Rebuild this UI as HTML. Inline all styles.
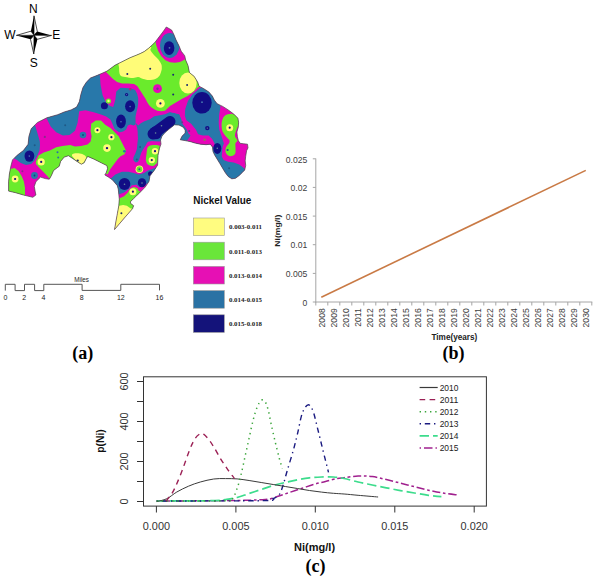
<!DOCTYPE html>
<html><head><meta charset="utf-8"><style>
html,body{margin:0;padding:0;background:#fff;width:597px;height:577px;overflow:hidden}
svg{display:block}
text{font-family:"Liberation Sans",sans-serif}
.serif{font-family:"Liberation Serif",serif}
</style></head><body>
<svg width="597" height="577" viewBox="0 0 597 577">
<g id="map">
<defs><clipPath id="mc"><path d="M166.3 27 171.6 30 173.6 34 176.1 40.1 179.1 46.1 181.2 51.2 184.7 55.7 185.7 60.2 188 65.5 189.4 72.5 194.3 76.6 197.7 82.2 199.1 86.3 203.3 88.4 208.8 91.9 212.3 96 214.4 100.2 217.1 103.7 222.7 106.4 228.2 109.9 233.8 114.1 237.9 118.2 238.6 122.4 238.3 127 236.9 132 237.4 136.8 238.3 140.5 240.1 143.3 243.8 143.8 247.5 144.2 248 147.9 246.6 150.7 245.7 156.2 245.2 160.8 245.7 165.4 244.7 170 242 172.8 239.2 175.5 235.5 178.3 231.8 178.8 228.2 176.5 225.4 172.8 222.6 168.2 219.9 163.6 217.1 159 214.8 155.3 213 151.6 212.5 147 210.2 144.2 206.1 144.7 200.5 144.2 195.2 143.1 190.2 141.6 185.2 140.6 180.3 139.8 182.1 136.1 185.2 133.1 185.2 130.1 183.1 127.1 179.1 125.1 174.5 124.8 169.1 129.1 165 132.6 162 136.1 160.5 140.1 161 144.1 159.5 148.2 158 155.2 157.6 165.2 153.8 171 150 175.7 149 181.4 145.2 187.1 139.5 192.9 133.6 198.6 130.3 201.9 130.7 203.4 133.6 205.7 132.6 208.6 123.5 219 114.5 229.6 116 221 117.4 213.4 118.8 205.7 119.3 199.1 118.3 189.5 117.4 185.7 112.6 180 108.3 177 104.8 174.9 106.2 172.7 107.6 168.5 106.9 165.6 101.2 162.8 94.1 159.2 87.7 156.4 86.3 158.5 84.1 162.8 81.3 164.2 77 161.4 72.7 158.5 68.5 155.7 64.2 157.1 60.6 161.4 59.2 166.3 57.1 167.8 53.5 170.6 51.4 175.6 49.3 179.2 45.2 178.6 40.5 177.1 35.9 181.7 34.3 186.4 35.1 191.1 35.9 195 32.8 197.3 23.4 195 15.6 192.7 8.6 191.1 8.6 181.7 9.4 174 10.9 166.1 12.5 159.9 17.2 155.2 23.4 150.5 28.1 144.3 28.9 136.5 31.2 128.7 37.4 122.5 46.8 117.8 57.7 114.7 64.2 112 71.1 109.9 76.6 107.1 79.4 101.6 80.8 94.7 82.9 87.7 86.3 82.2 90.5 78 97.4 75.3 107.1 71.1 115 65.2 120.1 62.7 125.1 60.2 130.1 57.7 135.1 55.7 140.2 53.6 144.2 51.6 148.2 48.6 152.2 45.1 155.2 42.1 158.2 38.1 161.3 34 164.3 30Z"/></clipPath></defs>
<g clip-path="url(#mc)"><rect x="0" y="20" width="260" height="220" fill="#E605B8"/>
<path d="M60 60 97 68 99.6 72.6 100.6 85.1 102.7 95.6 105.8 101.9 110 106.1 113.2 107.1 115.3 99.8 116.3 91.4 120.5 87.8 125.1 88.1 131.1 88.6 135.2 90.1 137.2 94.1 138.2 98.2 138.2 103.2 137.7 107.2 136.5 112 135.5 117 135.6 122.8 135.6 124.4 133.5 125.4 130.4 124.4 127.8 125.4 126.2 129.6 123.1 131.6 120 132.2 118.7 132 114.5 128.9 112.4 123.7 110.4 119.6 106.2 116.4 101 114.4 93.7 112.3 85.4 110.2 79.2 111.2 77.6 122.8 75 130.8 69.6 134.9 62.9 135.5 56.2 132.2 50.8 126.8 46.8 118.8 45 108Z" fill="#2878AA"/>
<path d="M28 118 35 125 37.4 133 39.8 141.2 40 145.2 39.5 150.4 37.4 155.6 34.3 160.8 31.2 163.9 26 165 20.8 162.9 16.6 159.8 14.6 158.7 5 150Z" fill="#2878AA"/>
<path d="M135.6 122.8 138.2 125.4 140.8 123.3 144.4 121.2 150 119.2 154.2 116.2 161.1 114.9 165 114.2 170 112 174.7 113.1 179.4 114.3 181.7 119 182.9 123.7 184.1 126 178 127 170 127 162.1 140.6 159.5 141.5 154.4 141.2 152 141.1 148 141.7 146.8 143.3 145.7 145.5 143 149.4 141.3 152.7 140.2 156.1 139.1 160 137.4 162.2 135.2 162.2 133.3 160 133.5 157.2 135.2 153.8 136.9 148.9 137.4 143.3 138 138.3 137.7 135 137.7 132.2 137.2 128Z" fill="#2878AA"/>
<path d="M108 181 115.4 174.4 121.9 171.8 128.4 171.8 133.6 173.1 138.8 174.4 144 173.1 147.9 170.5 151.8 169.2 156 167.5 158 170 150 182 143.1 185.7 139.3 187.6 136.5 184.8 131.7 185.2 128.8 189 124.1 192.4 119.3 194.3 112 192Z" fill="#2878AA"/>
<path d="M199.3 88.5 205 86 213.4 96.7 220.4 106.1 220.4 107.3 219.2 114.3 218.7 122.5 219.2 129.5 221.6 136.6 223.9 143.6 222.6 147 222.2 151.6 221.7 156.2 223.6 159.9 228.2 161.7 233.7 162.6 239.2 164.5 242.9 167.2 244.7 169.1 248 175 235 185 215 165 205 150 190 145 175 142 168 127 184.7 115.5 185.2 108.4 187.6 101.4 192.3 94.4Z" fill="#2878AA"/>
<path d="M170 108 176 104 184 100 187.6 101.4 185.2 108.4 184.7 115.5 186.4 120.2 191.1 123.7 195.8 129.5 198.1 134.2 202.8 135.4 208.7 135.4 212.2 138.9 214.5 143.6 216 147 205 147 195 146 186 142 189 138 190.5 135.5 188.5 133.5 186.8 129.5 184.6 126.5 182.5 123.7 181.2 119 179.4 114.3 174.7 113.1 170 112Z" fill="#E605B8"/>
<path d="M100 62 155 40 155.7 42.1 156.2 45.1 158.2 51.1 161.3 56.2 165.3 60.2 170 62.2 175 62.8 180 62 184 60 188 57 200 70 205 86 198.1 87.3 193.4 92 187.6 96.1 181.7 99.1 175.9 102.6 170 106.1 165 110.7 161.3 111.2 157.3 110.7 154.2 109.2 151.2 107.2 149.2 105.2 147.2 102.2 145.2 98.2 143.2 95.2 141.2 92.1 139.2 89.1 137.2 86.1 134.1 84.1 128.1 83.6 122.1 83.6 117.1 82.1 113 79.1 109 75 105 71Z" fill="#6AEB2C"/>
<path d="M35.9 161.5 38.5 155.6 43.7 152.5 49.9 150.4 56.2 147.3 62.4 145.9 70.2 145.1 75 146.6 81.2 146.1 87.5 144.5 90.6 141.4 91.6 136.2 90.6 131 91.1 125.8 91.1 123.7 95.8 120.6 101 120.6 105.2 124.8 110.4 127.9 114.5 132 118.7 136.2 120.8 140.4 123.9 146.6 126 150.8 124.5 154.2 120.6 156.2 118 158.8 114.1 164 110.2 169.2 107.6 174.4 100 170 60 170 49.9 179.5 47.8 176.4 43.7 172.2 39.5 168.1 35.9 163.9Z" fill="#6AEB2C"/>
<path d="M5 168 10.4 169.1 14.6 168.1 18.7 171.2 21.8 176.4 23.9 181.6 25 187.8 25 196 5 196Z" fill="#6AEB2C"/>
<path d="M225.1 115.5C226.6 114.4 229.2 113.7 231 113.7C232.8 113.7 234.2 114.4 235.6 115.5C237 116.6 238.8 118.5 239.2 120.2C239.6 122 238.6 124 238 126C237.4 128 236.1 130.1 235.6 131.9C235.1 133.7 234.8 135.2 235.1 136.6C235.4 138 237.3 139.4 237.4 140.5C237.5 141.6 235.8 142.2 235.5 143.3C235.2 144.4 235.5 145.5 235.5 147C235.5 148.5 235.8 151.1 235.5 152.5C235.2 153.9 234.6 154.7 233.7 155.3C232.8 155.9 231.2 156.4 230 156.2C228.8 156 227.6 155.2 226.8 154.3C226 153.4 225.5 151.9 225.4 150.7C225.3 149.5 225.7 148.2 226.3 147C226.9 145.8 228.6 144.4 229.1 143.3C229.6 142.2 229.8 141.4 229.5 140.5C229.2 139.6 228.3 139.2 227.2 137.8C226.1 136.4 223.7 133.9 222.8 131.9C221.9 129.9 221.7 128 221.6 126C221.5 124 221.6 122 222.2 120.2C222.8 118.5 223.6 116.6 225.1 115.5Z" fill="#6AEB2C"/>
<path d="M147.9 147.1C149 145.7 151.1 145.3 153 145.1C154.9 144.9 158.3 144.8 159.5 145.8C160.7 146.8 160.4 149.1 160.2 151C160 152.9 158.7 155.6 158.2 157.5C157.7 159.4 157.9 161.3 157 162.7C156.1 164.1 154.5 165.6 153 165.9C151.5 166.2 149.1 165.6 147.9 164.6C146.7 163.6 146.1 161.9 145.9 160.1C145.7 158.3 146.3 155.8 146.6 153.6C146.9 151.4 146.8 148.5 147.9 147.1Z" fill="#6AEB2C"/>
<path d="M116 198.8 119.3 198.6 124.1 196.2 127.9 192.4 129.8 189 133.6 187.1 137.4 188.1 138.4 190.5 141 192 137 212 116 212Z" fill="#6AEB2C"/>
<path d="M120.1 75C119.1 73.5 119.1 70.3 119.1 68C119.1 65.7 117.3 63.7 120 61C122.7 58.3 130 54.3 135 52C140 49.7 147.6 47.3 150.2 47C152.8 46.7 149.8 48.9 150.5 50.3C151.2 51.7 152.9 53.7 154.2 55.2C155.5 56.7 157 57.7 158.2 59.2C159.4 60.7 160.7 62.7 161.3 64.2C161.9 65.7 161.8 67.1 161.8 68.2C161.8 69.3 161.7 69.7 161.3 71C160.9 72.3 160.3 74.8 159.3 76.1C158.3 77.4 157 78.4 155.3 79.1C153.6 79.8 151.2 80.1 149.2 80.1C147.2 80.1 145 79.6 143.2 79.1C141.4 78.6 139.9 77.3 138.2 77.1C136.5 76.9 135.3 78.1 133.1 78.1C130.9 78.1 127.3 77.6 125.1 77.1C122.9 76.6 121.1 76.5 120.1 75Z" fill="#FFFC78"/>
<ellipse cx="188" cy="83" rx="8.7" ry="10.5" fill="#FFFC78"/>
<path d="M72 155.7C71.5 154.4 72.9 153.9 74.2 153.5C75.5 153.1 78.2 153.2 79.9 153.5C81.6 153.8 83 154.3 84.1 155C85.2 155.7 86.4 156.5 86.3 157.8C86.2 159.1 84.2 161.7 83.4 162.8C82.6 163.9 82.4 164.4 81.3 164.2C80.2 164 78.5 162.8 77 161.4C75.5 160 72.5 157 72 155.7Z" fill="#FFFC78"/>
<path d="M116 205.9 119.3 205.7 123.1 205 126.9 205.7 130.7 208.6 134 209 125 220 113 232 115 215Z" fill="#FFFC78"/>
<ellipse cx="169.8" cy="45.5" rx="9.8" ry="12.5" fill="#2878AA"/>
<ellipse cx="169.1" cy="48.1" rx="5.3" ry="6.8" fill="#110D85"/>
<ellipse cx="202" cy="102.8" rx="9.7" ry="10.8" fill="#110D85"/>
<ellipse cx="130.1" cy="106.2" rx="5" ry="6" fill="#110D85"/>
<ellipse cx="121" cy="121.4" rx="4.9" ry="7" fill="#110D85"/>
<circle cx="104.4" cy="105.8" r="3.5" fill="#110D85"/>
<ellipse cx="29.4" cy="156.1" rx="4.9" ry="5.7" fill="#110D85"/>
<ellipse cx="217.3" cy="148.4" rx="4" ry="5.5" fill="#110D85"/>
<circle cx="155.6" cy="132.8" r="6.5" fill="#110D85"/>
<ellipse cx="124.5" cy="184" rx="5.8" ry="6.1" fill="#110D85"/>
<ellipse cx="142" cy="182.8" rx="4.2" ry="4.5" fill="#110D85"/>
<circle cx="150.5" cy="173.7" r="2.5" fill="#110D85"/>
<path d="M153 134L170 121.5" stroke="#110D85" stroke-width="11" stroke-linecap="round" fill="none"/>
<circle cx="169.5" cy="47.8" r="0.9" fill="#4a78b0"/>
<circle cx="202" cy="102.2" r="0.9" fill="#4a78b0"/>
<circle cx="127.3" cy="73.9" r="1" fill="#1a2a70"/>
<circle cx="150.2" cy="68.7" r="1" fill="#1a2a70"/>
<circle cx="173.2" cy="74.8" r="1" fill="#1a2a70"/>
<circle cx="187.1" cy="84.9" r="1" fill="#1a2a70"/>
<circle cx="173.2" cy="94.4" r="1" fill="#1a2a70"/>
<circle cx="157.5" cy="88.7" r="4.4" fill="#E605B8"/>
<circle cx="157.5" cy="88.7" r="1.2" fill="#6a3a8a"/>
<circle cx="160.4" cy="103.4" r="4.4" fill="#FFFC78"/>
<circle cx="160.4" cy="103.4" r="1.1" fill="#110D85"/>
<circle cx="108.5" cy="101" r="2.6" fill="#6AEB2C"/>
<circle cx="108.5" cy="101" r="1.2" fill="#FFFC78"/>
<circle cx="126.6" cy="94.6" r="1.6" fill="#110D85"/>
<circle cx="126.6" cy="94.6" r="0.6" fill="#4a78b0"/>
<circle cx="130.2" cy="89.3" r="1.2" fill="#b02080"/>
<circle cx="65.2" cy="125.2" r="1" fill="#1f5a86"/>
<circle cx="83" cy="135" r="3.3" fill="#2878AA"/>
<circle cx="83" cy="135" r="0.9" fill="#1a3a7a"/>
<circle cx="44.8" cy="136.9" r="1.1" fill="#8a2a8a"/>
<circle cx="34.7" cy="145.3" r="1" fill="#1f5a86"/>
<circle cx="57.5" cy="152.3" r="1" fill="#2a70a8"/>
<circle cx="58.2" cy="157.6" r="1" fill="#2a70a8"/>
<circle cx="97.4" cy="130.2" r="3" fill="#FFFC78"/>
<circle cx="97.4" cy="130.2" r="1.1" fill="#110D85"/>
<circle cx="111.4" cy="137.2" r="3.1" fill="#FFFC78"/>
<circle cx="111.4" cy="137.2" r="1.1" fill="#110D85"/>
<circle cx="107" cy="148.1" r="3.8" fill="#FFFC78"/>
<circle cx="107" cy="148.1" r="1.2" fill="#110D85"/>
<circle cx="41.2" cy="161.9" r="3.6" fill="#FFFC78"/>
<circle cx="41.2" cy="161.9" r="1.1" fill="#110D85"/>
<circle cx="15.1" cy="179" r="3.4" fill="#FFFC78"/>
<circle cx="15.1" cy="179" r="1.1" fill="#110D85"/>
<circle cx="34.5" cy="175.5" r="3.4" fill="#2878AA"/>
<circle cx="34.5" cy="175.5" r="0.9" fill="#1a3a7a"/>
<circle cx="22.4" cy="171.2" r="1" fill="#8a2a8a"/>
<circle cx="29.3" cy="156.1" r="0.8" fill="#4a78b0"/>
<circle cx="121" cy="121.8" r="0.8" fill="#4a78b0"/>
<circle cx="130.1" cy="106.6" r="0.8" fill="#4a78b0"/>
<circle cx="155" cy="151.2" r="3.2" fill="#FFFC78"/>
<circle cx="155" cy="151.2" r="1.1" fill="#110D85"/>
<circle cx="151.8" cy="160.1" r="3.2" fill="#FFFC78"/>
<circle cx="151.8" cy="160.1" r="1.1" fill="#110D85"/>
<circle cx="139.4" cy="169.2" r="3.8" fill="#FFFC78"/>
<circle cx="139.4" cy="169.2" r="2.9" fill="#6AEB2C"/>
<circle cx="139.4" cy="169.2" r="1" fill="#1a6a8a"/>
<circle cx="140.1" cy="147.1" r="1" fill="#1f5a86"/>
<circle cx="136.8" cy="159.4" r="1" fill="#1f5a86"/>
<circle cx="124.4" cy="151.2" r="1.3" fill="#2a70a8"/>
<circle cx="132.9" cy="191.7" r="3.5" fill="#FFFC78"/>
<circle cx="132.9" cy="191.7" r="1.1" fill="#110D85"/>
<circle cx="121.4" cy="213.2" r="1" fill="#1a2a70"/>
<circle cx="77.7" cy="160.6" r="1.1" fill="#1a2a70"/>
<circle cx="155.6" cy="133" r="0.8" fill="#6a8a9a"/>
<circle cx="161.5" cy="125.8" r="0.8" fill="#6a8a9a"/>
<circle cx="229.7" cy="127.7" r="3.5" fill="#FFFC78"/>
<circle cx="229.7" cy="127.7" r="1.1" fill="#110D85"/>
<circle cx="207.3" cy="128.1" r="2.2" fill="#110D85"/>
<circle cx="207.3" cy="128.1" r="0.7" fill="#6a8aa0"/>
<circle cx="227.6" cy="150" r="1.1" fill="#1f5a86"/>
<circle cx="229.1" cy="168.3" r="1" fill="#1f5a86"/>
<circle cx="204.6" cy="139.8" r="1.2" fill="#8a7a5a"/>
<circle cx="189.2" cy="131.1" r="1" fill="#6a3a8a"/>
<circle cx="182.2" cy="122.3" r="1" fill="#6a3a8a"/>
<circle cx="217.3" cy="148.3" r="0.8" fill="#6a8aa0"/>
<circle cx="124.5" cy="184.2" r="0.8" fill="#6a8aa0"/>
<circle cx="142" cy="183" r="0.8" fill="#6a8aa0"/>
</g>
<path d="M166.3 27 171.6 30 173.6 34 176.1 40.1 179.1 46.1 181.2 51.2 184.7 55.7 185.7 60.2 188 65.5 189.4 72.5 194.3 76.6 197.7 82.2 199.1 86.3 203.3 88.4 208.8 91.9 212.3 96 214.4 100.2 217.1 103.7 222.7 106.4 228.2 109.9 233.8 114.1 237.9 118.2 238.6 122.4 238.3 127 236.9 132 237.4 136.8 238.3 140.5 240.1 143.3 243.8 143.8 247.5 144.2 248 147.9 246.6 150.7 245.7 156.2 245.2 160.8 245.7 165.4 244.7 170 242 172.8 239.2 175.5 235.5 178.3 231.8 178.8 228.2 176.5 225.4 172.8 222.6 168.2 219.9 163.6 217.1 159 214.8 155.3 213 151.6 212.5 147 210.2 144.2 206.1 144.7 200.5 144.2 195.2 143.1 190.2 141.6 185.2 140.6 180.3 139.8 182.1 136.1 185.2 133.1 185.2 130.1 183.1 127.1 179.1 125.1 174.5 124.8 169.1 129.1 165 132.6 162 136.1 160.5 140.1 161 144.1 159.5 148.2 158 155.2 157.6 165.2 153.8 171 150 175.7 149 181.4 145.2 187.1 139.5 192.9 133.6 198.6 130.3 201.9 130.7 203.4 133.6 205.7 132.6 208.6 123.5 219 114.5 229.6 116 221 117.4 213.4 118.8 205.7 119.3 199.1 118.3 189.5 117.4 185.7 112.6 180 108.3 177 104.8 174.9 106.2 172.7 107.6 168.5 106.9 165.6 101.2 162.8 94.1 159.2 87.7 156.4 86.3 158.5 84.1 162.8 81.3 164.2 77 161.4 72.7 158.5 68.5 155.7 64.2 157.1 60.6 161.4 59.2 166.3 57.1 167.8 53.5 170.6 51.4 175.6 49.3 179.2 45.2 178.6 40.5 177.1 35.9 181.7 34.3 186.4 35.1 191.1 35.9 195 32.8 197.3 23.4 195 15.6 192.7 8.6 191.1 8.6 181.7 9.4 174 10.9 166.1 12.5 159.9 17.2 155.2 23.4 150.5 28.1 144.3 28.9 136.5 31.2 128.7 37.4 122.5 46.8 117.8 57.7 114.7 64.2 112 71.1 109.9 76.6 107.1 79.4 101.6 80.8 94.7 82.9 87.7 86.3 82.2 90.5 78 97.4 75.3 107.1 71.1 115 65.2 120.1 62.7 125.1 60.2 130.1 57.7 135.1 55.7 140.2 53.6 144.2 51.6 148.2 48.6 152.2 45.1 155.2 42.1 158.2 38.1 161.3 34 164.3 30Z" fill="none" stroke="#4a4a4a" stroke-width="0.7"/>
</g>
<g id="compass">
<polygon points="34,15.8 30.9,31.2 34,35.3" fill="#000"/>
<polygon points="34,15.8 37.3,31.4 34,35.3" fill="#fff" stroke="#000" stroke-width="0.7"/>
<polygon points="51.6,35.4 37.3,31.4 34,35.3" fill="#000"/>
<polygon points="51.6,35.4 37.4,39.3 34,35.3" fill="#fff" stroke="#000" stroke-width="0.7"/>
<polygon points="33.8,54 37.4,39.3 34,35.3" fill="#000"/>
<polygon points="33.8,54 30.5,39.3 34,35.3" fill="#fff" stroke="#000" stroke-width="0.7"/>
<polygon points="16.4,35.4 30.5,39.3 34,35.3" fill="#000"/>
<polygon points="16.4,35.4 30.9,31.2 34,35.3" fill="#fff" stroke="#000" stroke-width="0.7"/>
<text x="33.4" y="12.8" font-size="12" text-anchor="middle" fill="#000">N</text>
<text x="10" y="39.4" font-size="12" text-anchor="middle" fill="#000">W</text>
<text x="56.2" y="39.4" font-size="12" text-anchor="middle" fill="#000">E</text>
<text x="33.7" y="67" font-size="12" text-anchor="middle" fill="#000">S</text>
</g>
<g id="scalebar" fill="none" stroke="#555" stroke-width="1">
<path d="M5.3 290.6V284.3H15.1V290.6H24.5V284.3H34.6V290.6H43.8V284.3H82.1V290.4H120.8V284.3H159.5V290.4"/>
</g>
<g font-size="7" fill="#222" text-anchor="middle">
<text x="5.5" y="299.5">0</text><text x="24.3" y="299.5">2</text><text x="43.5" y="299.5">4</text>
<text x="81.8" y="299.5">8</text><text x="120.8" y="299.5">12</text><text x="159.5" y="299.5">16</text>
<text x="81.6" y="281.6" textLength="14.7" lengthAdjust="spacingAndGlyphs">Miles</text>
</g>
<text x="193.3" y="204.3" font-size="11" font-weight="bold" fill="#111" textLength="58" lengthAdjust="spacingAndGlyphs">Nickel Value</text>
<rect x="193.3" y="218" width="31" height="17.6" fill="#FFFC80" stroke="#999" stroke-width="0.6"/>
<text x="229" y="229.3" font-size="7" font-weight="bold" class="serif" fill="#222" textLength="33" lengthAdjust="spacingAndGlyphs">0.003-0.011</text>
<rect x="193.3" y="242.2" width="31" height="17.6" fill="#6AE63A" stroke="#999" stroke-width="0.6"/>
<text x="229" y="253.5" font-size="7" font-weight="bold" class="serif" fill="#222" textLength="33" lengthAdjust="spacingAndGlyphs">0.011-0.013</text>
<rect x="193.3" y="266.4" width="31" height="17.6" fill="#E610B4" stroke="#999" stroke-width="0.6"/>
<text x="229" y="277.7" font-size="7" font-weight="bold" class="serif" fill="#222" textLength="33" lengthAdjust="spacingAndGlyphs">0.013-0.014</text>
<rect x="193.3" y="290.6" width="31" height="17.6" fill="#2A72A4" stroke="#999" stroke-width="0.6"/>
<text x="229" y="301.9" font-size="7" font-weight="bold" class="serif" fill="#222" textLength="33" lengthAdjust="spacingAndGlyphs">0.014-0.015</text>
<rect x="193.3" y="314.8" width="31" height="17.6" fill="#14137A" stroke="#999" stroke-width="0.6"/>
<text x="229" y="326.1" font-size="7" font-weight="bold" class="serif" fill="#222" textLength="33" lengthAdjust="spacingAndGlyphs">0.015-0.018</text>
<g stroke="#A6A6A6" stroke-width="1" fill="none"><path d="M315.8 158.5V302.5M315.3 302H592.3"/><path d="M312.8 302H315.8"/><path d="M312.8 273.4H315.8"/><path d="M312.8 244.7H315.8"/><path d="M312.8 216.1H315.8"/><path d="M312.8 187.4H315.8"/><path d="M312.8 158.8H315.8"/><path d="M315.8 302V305.5"/><path d="M327.8 302V305.5"/><path d="M339.8 302V305.5"/><path d="M351.8 302V305.5"/><path d="M363.8 302V305.5"/><path d="M375.8 302V305.5"/><path d="M387.8 302V305.5"/><path d="M399.8 302V305.5"/><path d="M411.8 302V305.5"/><path d="M423.8 302V305.5"/><path d="M435.8 302V305.5"/><path d="M447.8 302V305.5"/><path d="M459.8 302V305.5"/><path d="M471.8 302V305.5"/><path d="M483.8 302V305.5"/><path d="M495.8 302V305.5"/><path d="M507.8 302V305.5"/><path d="M519.8 302V305.5"/><path d="M531.8 302V305.5"/><path d="M543.8 302V305.5"/><path d="M555.8 302V305.5"/><path d="M567.8 302V305.5"/><path d="M579.8 302V305.5"/><path d="M591.8 302V305.5"/></g>
<g font-size="8.6" fill="#404040" text-anchor="end"><text x="307.3" y="305.7">0</text><text x="307.3" y="277.1">0.005</text><text x="307.3" y="248.4">0.01</text><text x="307.3" y="219.8">0.015</text><text x="307.3" y="191.1">0.02</text><text x="307.3" y="162.5">0.025</text></g>
<g font-size="8.6" fill="#404040" text-anchor="end"><text transform="translate(321.8 308.3) rotate(-90)" x="0" y="3.1">2008</text><text transform="translate(333.8 308.3) rotate(-90)" x="0" y="3.1">2009</text><text transform="translate(345.8 308.3) rotate(-90)" x="0" y="3.1">2010</text><text transform="translate(357.8 308.3) rotate(-90)" x="0" y="3.1">2011</text><text transform="translate(369.8 308.3) rotate(-90)" x="0" y="3.1">2012</text><text transform="translate(381.8 308.3) rotate(-90)" x="0" y="3.1">2013</text><text transform="translate(393.8 308.3) rotate(-90)" x="0" y="3.1">2014</text><text transform="translate(405.8 308.3) rotate(-90)" x="0" y="3.1">2015</text><text transform="translate(417.8 308.3) rotate(-90)" x="0" y="3.1">2016</text><text transform="translate(429.8 308.3) rotate(-90)" x="0" y="3.1">2017</text><text transform="translate(441.8 308.3) rotate(-90)" x="0" y="3.1">2018</text><text transform="translate(453.8 308.3) rotate(-90)" x="0" y="3.1">2019</text><text transform="translate(465.8 308.3) rotate(-90)" x="0" y="3.1">2020</text><text transform="translate(477.8 308.3) rotate(-90)" x="0" y="3.1">2021</text><text transform="translate(489.8 308.3) rotate(-90)" x="0" y="3.1">2022</text><text transform="translate(501.8 308.3) rotate(-90)" x="0" y="3.1">2023</text><text transform="translate(513.8 308.3) rotate(-90)" x="0" y="3.1">2024</text><text transform="translate(525.8 308.3) rotate(-90)" x="0" y="3.1">2025</text><text transform="translate(537.8 308.3) rotate(-90)" x="0" y="3.1">2026</text><text transform="translate(549.8 308.3) rotate(-90)" x="0" y="3.1">2027</text><text transform="translate(561.8 308.3) rotate(-90)" x="0" y="3.1">2028</text><text transform="translate(573.8 308.3) rotate(-90)" x="0" y="3.1">2029</text><text transform="translate(585.8 308.3) rotate(-90)" x="0" y="3.1">2030</text></g>
<path d="M321.3 297.2L585.8 170.4" stroke="#C97A45" stroke-width="1.6" fill="none"/>
<text transform="translate(277.5 230.7) rotate(-90)" x="0" y="2.4" font-size="7.6" font-weight="bold" text-anchor="middle" fill="#222" textLength="32" lengthAdjust="spacingAndGlyphs">Ni(mg/l)</text>
<text x="454.4" y="339.8" font-size="8.2" font-weight="bold" text-anchor="middle" fill="#222">Time(years)</text>
<text x="82.7" y="358.6" font-size="18" font-weight="bold" class="serif" text-anchor="middle" fill="#000">(a)</text>
<text x="453.6" y="358.6" font-size="18" font-weight="bold" class="serif" text-anchor="middle" fill="#000">(b)</text>
<rect x="143.5" y="376.8" width="342.9" height="129.3" fill="none" stroke="#333" stroke-width="1"/>
<g stroke="#333" stroke-width="1" fill="none"><path d="M137 501.5H143.5"/><path d="M137 481.5H143.5"/><path d="M137 461.5H143.5"/><path d="M137 441.5H143.5"/><path d="M137 421.5H143.5"/><path d="M137 401.5H143.5"/><path d="M137 381.5H143.5"/><path d="M156.4 506.1V512.5"/><path d="M235.9 506.1V512.5"/><path d="M315.3 506.1V512.5"/><path d="M394.8 506.1V512.5"/><path d="M474.2 506.1V512.5"/></g>
<g font-size="10.9" fill="#333" text-anchor="middle"><text transform="translate(127.6 501.5) rotate(-90)">0</text><text transform="translate(127.6 461.5) rotate(-90)">200</text><text transform="translate(127.6 421.5) rotate(-90)">400</text><text transform="translate(127.6 381.5) rotate(-90)">600</text><text x="156.4" y="530.2">0.000</text><text x="235.9" y="530.2">0.005</text><text x="315.3" y="530.2">0.010</text><text x="394.8" y="530.2">0.015</text><text x="474.2" y="530.2">0.020</text></g>
<text transform="translate(103.6 441) rotate(-90)" font-size="10.3" font-weight="bold" text-anchor="middle" fill="#111">p(Ni)</text>
<text x="314.6" y="551" font-size="11" font-weight="bold" text-anchor="middle" fill="#111">Ni(mg/l)</text>
<text x="315.4" y="572.4" font-size="18" font-weight="bold" class="serif" text-anchor="middle" fill="#000">(c)</text>
<path d="M156.6 501C168 500.9 206.9 500.9 225 500.6C243.1 500.4 256.5 500.2 265.2 499.5C273.9 498.8 273.3 497.7 277.3 496.5C281.3 495.3 285.3 493.8 289.3 492.5C293.3 491.2 297.4 489.8 301.4 488.5C305.4 487.2 309.4 485.7 313.4 484.5C317.4 483.3 321.5 482.5 325.5 481.5C329.5 480.5 334.5 479 337.6 478.4C340.7 477.8 340.7 478.1 344.1 477.7C347.5 477.3 353.4 476.3 358.1 476.1C362.8 475.9 367.5 476 372.2 476.6C376.9 477.2 381.6 478.5 386.3 479.6C391 480.7 395.7 481.9 400.4 483.1C405.1 484.3 409.7 485.5 414.4 486.7C419.1 487.9 423.8 489.1 428.5 490.2C433.2 491.2 437.7 492.2 442.6 493C447.5 493.8 455.3 494.6 457.8 494.9" fill="none" stroke="#A0208E" stroke-width="1.5" stroke-dasharray="2.7 2.7 8.1 2.7"/>
<path d="M156.6 501C166.3 500.9 203.6 500.9 215 500.6C226.4 500.4 221.3 500 225 499.5C228.7 499 233.1 498.5 237.1 497.5C241.1 496.5 245.1 494.8 249.1 493.5C253.1 492.2 257.2 490.8 261.2 489.5C265.2 488.2 269.2 486.7 273.2 485.5C277.2 484.3 281.3 483.4 285.3 482.5C289.3 481.6 293.4 480.6 297.4 479.8C301.4 479 305.4 478.3 309.4 477.8C313.4 477.3 317.5 477.1 321.5 477C325.5 476.9 329.7 476.8 333.5 477C337.3 477.2 340 477.7 344.1 478.5C348.2 479.3 353.4 480.9 358.1 482C362.8 483.1 367.5 484 372.2 485C376.9 486 381.6 486.9 386.3 487.8C391 488.7 395.7 489.7 400.4 490.6C405.1 491.5 409.7 492.2 414.4 493C419.1 493.8 424 494.7 428.5 495.3C433 495.9 439.2 496.5 441.4 496.7" fill="none" stroke="#3CDC8C" stroke-width="1.7" stroke-dasharray="9.4 4"/>
<path d="M156.6 501C174.7 500.9 245.6 501 265 500.6C284.4 500.2 270.8 499.5 273.2 498.5C275.6 497.5 277.6 496.8 279.3 494.5C281 492.2 282 488.5 283.3 484.5C284.6 480.5 285.6 476.1 287.3 470.4C289 464.7 291.6 456.3 293.3 450.3C295 444.3 296 439.9 297.4 434.2C298.8 428.5 300.1 420.6 301.4 416.1C302.7 411.6 304.1 408.9 305.4 407.1C306.7 405.3 308.1 404.3 309.4 405.1C310.7 405.9 312 408.2 313.4 412.1C314.8 416 316.1 422.8 317.5 428.2C318.9 433.6 320.2 438.9 321.5 444.3C322.8 449.7 324.3 455.7 325.5 460.4C326.7 465.1 328 470.4 328.5 472.4" fill="none" stroke="#1A1A80" stroke-width="1.4" stroke-dasharray="1.4 3.8 5.4 3.8"/>
<path d="M156.7 501.6C158.4 501.1 163.5 500.3 166.8 498.7C170.2 497.1 173.2 494.1 176.8 492C180.4 489.9 184.6 487.9 188.5 486.2C192.4 484.5 196.1 483.2 200.3 482C204.5 480.8 209.5 479.6 213.7 479C217.9 478.4 221.5 478.6 225.4 478.6C229.3 478.6 233.2 478.6 237.1 478.9C241 479.2 245.1 479.9 249.1 480.5C253.1 481.1 257.2 481.8 261.2 482.5C265.2 483.2 269.2 483.8 273.2 484.5C277.2 485.2 281.3 485.8 285.3 486.5C289.3 487.2 293.4 487.8 297.4 488.5C301.4 489.2 305.4 489.9 309.4 490.5C313.4 491.1 317.5 491.6 321.5 492.1C325.5 492.6 329.7 493 333.5 493.3C337.3 493.6 340 493.7 344.1 494C348.2 494.3 352.4 494.8 358.1 495.3C363.8 495.8 374.8 496.7 378.1 497" fill="none" stroke="#3a3a3a" stroke-width="1.0"/>
<path d="M156.6 501C168 501 212.4 501.1 225 500.8C237.6 500.6 230 501.6 232 499.5C234 497.4 235.6 492.7 237.1 488.5C238.6 484.3 239.8 479.8 241.1 474.4C242.4 469 243.8 462.3 245.1 456.3C246.4 450.3 247.8 444.2 249.1 438.2C250.4 432.2 251.8 425.4 253.1 420.2C254.4 415 255.8 410.4 257.2 407.1C258.6 403.8 259.9 401.1 261.2 400.2C262.5 399.3 264 400.4 265.2 402C266.4 403.6 267.2 406.4 268.2 410.1C269.2 413.8 270 418.8 271.2 424.2C272.4 429.6 273.9 436.6 275.3 442.3C276.7 448 278.1 454 279.3 458.3C280.5 462.6 281.8 466.7 282.3 468.4" fill="none" stroke="#3BA53B" stroke-width="1.5" stroke-dasharray="1.4 3.8"/>
<path d="M165.9 501.2C166.9 499.9 170 496.6 171.8 493.7C173.6 490.8 174.9 488.2 176.8 483.7C178.8 479.2 181.3 472.8 183.5 466.9C185.7 461 188.2 453.2 190.2 448.5C192.1 443.8 193.5 440.9 195.2 438.4C196.9 435.9 198.9 434.4 200.3 433.7C201.7 433 202.2 433.3 203.6 434.2C205 435.1 206.9 437.2 208.6 439.3C210.3 441.4 211.7 443.6 213.7 446.8C215.7 450 218.2 454.9 220.4 458.5C222.6 462.1 224.8 465.2 227.1 468.6C229.4 472 233.3 476.9 234.5 478.6" fill="none" stroke="#9B2055" stroke-width="1.4" stroke-dasharray="5.4 4.6"/>
<path d="M419.6 387.5H437.7" stroke="#3a3a3a" stroke-width="1.2"/><text x="439.7" y="390.8" font-size="9" fill="#222" textLength="18.7" lengthAdjust="spacingAndGlyphs">2010</text>
<path d="M419.6 399.6H437.7" stroke="#9B2055" stroke-width="1.4" stroke-dasharray="5.6 4.4"/><text x="439.7" y="402.9" font-size="9" fill="#222" textLength="18.7" lengthAdjust="spacingAndGlyphs">2011</text>
<path d="M419.6 411.7H437.7" stroke="#3BA53B" stroke-width="1.5" stroke-dasharray="1.4 3.8"/><text x="439.7" y="415" font-size="9" fill="#222" textLength="18.7" lengthAdjust="spacingAndGlyphs">2012</text>
<path d="M419.6 423.8H437.7" stroke="#1A1A80" stroke-width="1.4" stroke-dasharray="1.4 3.8 5.4 3.8"/><text x="439.7" y="427.1" font-size="9" fill="#222" textLength="18.7" lengthAdjust="spacingAndGlyphs">2013</text>
<path d="M419.6 435.9H437.7" stroke="#3CDC8C" stroke-width="1.7" stroke-dasharray="9.4 4"/><text x="439.7" y="439.2" font-size="9" fill="#222" textLength="18.7" lengthAdjust="spacingAndGlyphs">2014</text>
<path d="M419.6 448H437.7" stroke="#A0208E" stroke-width="1.5" stroke-dasharray="1.4 3 8.5 3"/><text x="439.7" y="451.3" font-size="9" fill="#222" textLength="18.7" lengthAdjust="spacingAndGlyphs">2015</text>
</svg></body></html>
